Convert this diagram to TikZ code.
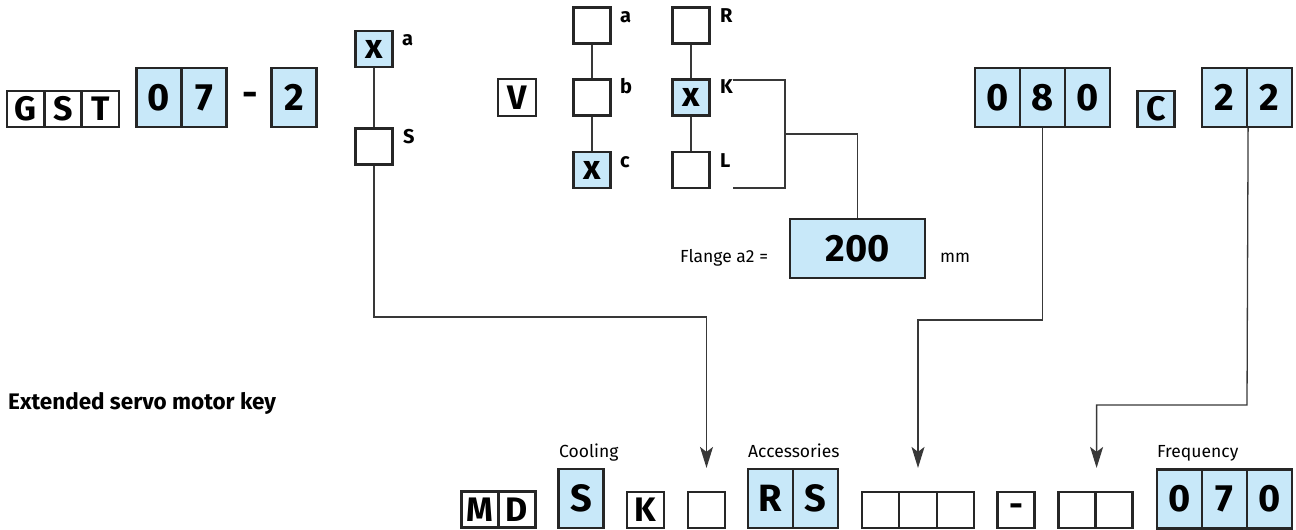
\documentclass[tikz,border=0pt]{standalone}
\usepackage{fontspec}
\setmainfont{Fira Sans}
\usetikzlibrary{arrows.meta}
\definecolor{keyblue}{HTML}{C8E8F9}
\definecolor{wiregray}{HTML}{383838}
\tikzset{
  cell/.style={draw=black!85, line width=2.2pt, inner sep=0pt,
    minimum width=37pt, minimum height=36pt,
    font=\fontsize{34}{34}\selectfont\bfseries},
  tall/.style={minimum width=45pt, minimum height=59pt,
    font=\fontsize{38}{38}\selectfont\bfseries},
  sel/.style={fill=keyblue},
  tag/.style={inner sep=0pt, anchor=base west, font=\fontsize{20}{20}\selectfont\bfseries},
  note/.style={inner sep=0pt, anchor=base west, font=\fontsize{17.5}{17.5}\selectfont},
  wire/.style={draw=wiregray, line width=1.3pt},
  arr/.style={-{Stealth[length=21pt,width=13pt,inset=5pt]}, shorten >=23pt},
}
\begin{document}
\begin{tikzpicture}[x=1pt, y=-1pt]
\useasboundingbox (0,0) rectangle (1296,530);
%\draw[thin, opacity=0.5] (0,0) grid[step=50] (1296,530);

%%% gearbox key

% type
\node[cell] (g) at (25.7,109) {G};
\node[cell] (s) at (63,109) {S};
\node[cell] (t) at (100.3,109) {T};

% size
\node[cell,tall,sel] (sz1) at (159,97.5) {0};
\node[cell,tall,sel] (sz2) at (204,97.5) {7};
\node[font=\fontsize{38}{38}\selectfont\bfseries, inner sep=0pt] (dash1) at (250,99) {-};
\node[cell,tall,sel] (stg) at (294,97.5) {2};

% design a / S
\node[cell,sel] (opa) at (374,49) {x};
\node[cell] (ops) at (374,146.5) {};
\node[tag] (la) at (402,45) {a};
\node[tag] (ls) at (403,143) {S};
\draw[wire] (opa) -- (ops);

% V
\node[cell,minimum width=38pt,minimum height=37pt] (v) at (517,97.5) {V};
\node[cell] (pa) at (592,25.5) {};
\node[cell] (pb) at (592,97.5) {};
\node[cell,sel] (pc) at (592,170) {x};
\node[cell] (pr) at (691,25.5) {};
\node[cell,sel] (pk) at (691,97.5) {x};
\node[cell] (pl) at (691,170) {};
\node[tag] (lpa) at (620,22) {a};
\node[tag] (lpb) at (620,93) {b};
\node[tag] (lpc) at (620,167) {c};
\node[tag] (lpr) at (720,22) {R};
\node[tag] (lpk) at (720,93) {K};
\node[tag] (lpl) at (720,167) {L};
\draw[wire] (pa) -- (pb) -- (pc);
\draw[wire] (pr) -- (pk) -- (pl);

% flange
\coordinate (brtop) at (733,80);
\coordinate (brbot) at (733,188);
\coordinate (brmid) at (785,134);
\draw[wire] (brtop) -- ++(52,0) |- (brbot);
\node[cell,tall,sel,minimum width=135pt] (flange) at (857.5,248.5) {200};
\draw[wire] (brmid) -| (flange);
\node[note] (lfl) at (680,262) {Flange a2 =};
\node[note] (lmm) at (940,262) {mm};

% motor size, C, poles
\node[cell,tall,sel] (ms1) at (997.5,97.5) {0};
\node[cell,tall,sel] (ms2) at (1042.5,97.5) {8};
\node[cell,tall,sel] (ms3) at (1087.5,97.5) {0};
\node[cell,sel] (mc) at (1156,109) {C};
\node[cell,tall,sel] (pp1) at (1224.5,97.5) {2};
\node[cell,tall,sel] (pp2) at (1269.5,97.5) {2};

%%% motor key

\node[tag, font=\fontsize{22.5}{22.5}\selectfont\bfseries] (title) at (8,409) {Extended servo motor key};

\node[cell] (m) at (480,509.5) {M};
\node[cell] (d) at (517,509.5) {D};
\node[cell,tall,sel] (cool) at (581,498.5) {S};
\node[note, anchor=base west] (lcool) at (559,457) {Cooling};
\node[cell] (k) at (645.5,510) {K};
\node[cell] (mk) at (706.5,510) {};
\node[cell,tall,sel] (acc1) at (770.5,498.5) {R};
\node[cell,tall,sel] (acc2) at (815.5,498.5) {S};
\node[note] (lacc) at (748,457) {Accessories};
\node[cell,minimum width=37.3pt] (mt1) at (880.7,510) {};
\node[cell,minimum width=37.3pt] (mt2) at (918,510) {};
\node[cell,minimum width=37.3pt] (mt3) at (955.3,510) {};
\node[cell] (dash2) at (1016,510) {-};
\node[cell] (mf1) at (1077,510) {};
\node[cell] (mf2) at (1114,510) {};
\node[cell,tall,sel] (fq1) at (1179.5,499) {0};
\node[cell,tall,sel] (fq2) at (1224.5,499) {7};
\node[cell,tall,sel] (fq3) at (1269.5,499) {0};
\node[note] (lfq) at (1157,457) {Frequency};

%%% links

\coordinate (t1) at (374,317);
\coordinate (t2) at (1042.5,320);
\coordinate (t3) at (1247,405);
\draw[wire,arr] (ops) -- (t1) -| (mk.north);
\draw[wire,arr] (ms2) -- (t2) -| (mt2.north);
\draw[wire,arr] (pp1.south east) -- (t3) -| (mf1.north east);
\end{tikzpicture}
\end{document}
